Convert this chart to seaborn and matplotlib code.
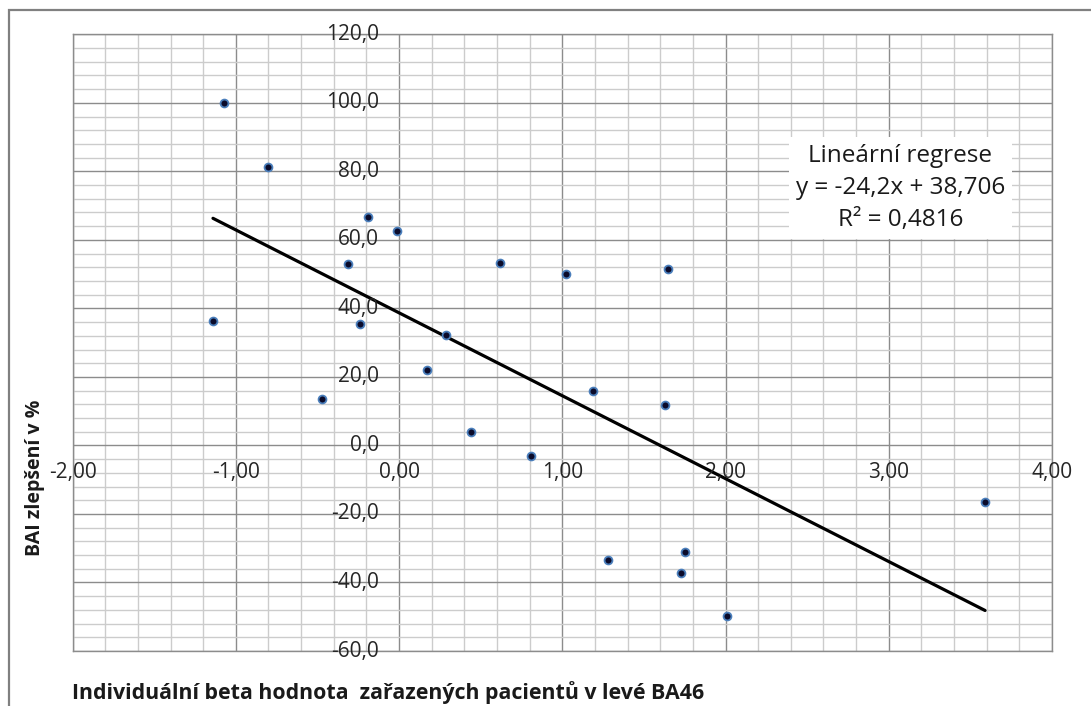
import numpy as np
import pandas as pd
import matplotlib
matplotlib.use("Agg")
import matplotlib.pyplot as plt
import matplotlib.patches as mpatches
from matplotlib.transforms import offset_copy
import seaborn as sns

# ---- data ----
beta = [-1.07, -0.80, -0.19, -0.01, -0.31, 0.62, -1.14, -0.24, 0.29, 1.02, 1.65,
        -0.47, 0.17, 0.44, 0.81, 1.19, 1.63, 3.59, 1.75, 1.28, 1.73, 2.01]
bai = [100.0, 81.4, 66.8, 62.6, 52.9, 53.2, 36.2, 35.5, 32.3, 50.1, 51.6,
       13.6, 22.1, 3.8, -3.2, 16.0, 11.8, -16.5, -31.1, -33.3, -37.3, -49.7]
slope = -24.2
intercept = 38.706
r2 = 0.4816
x_ticks = [-2, -1, 0, 1, 2, 3, 4]
y_ticks = [-60, -40, -20, 0, 20, 40, 60, 80, 100, 120]
x_labels = ["-2,00", "-1,00", "0,00", "1,00", "2,00", "3,00", "4,00"]
y_labels = ["-60,0", "-40,0", "-20,0", "0,0", "20,0", "40,0", "60,0", "80,0", "100,0", "120,0"]
legend_lines = ["Lineární regrese", "y = -24,2x + 38,706", "R² = 0,4816"]
xlabel = "Individuální beta hodnota  zařazených pacientů v levé BA46"
ylabel = "BAI zlepšení v %"

df = pd.DataFrame({"beta": beta, "bai": bai})
line_x = np.array([min(beta), max(beta)])
line_df = pd.DataFrame({"x": line_x, "y": slope * line_x + intercept})

sns.set_theme(style="white")
plt.rcParams["font.family"] = ["Open Sans", "DejaVu Sans"]

W, H = 1091, 706
fig = plt.figure(figsize=(W / 100, H / 100), dpi=100)
ax = fig.add_axes([72.6 / W, 1 - 651 / H, (1052 - 72.6) / W, (651 - 34.3) / H])

ax.set_xlim(-2, 4)
ax.set_ylim(-60, 120)
ax.set_xticks(x_ticks)
ax.set_yticks(y_ticks)
ax.set_xticks(np.arange(-2, 4.001, 0.2), minor=True)
ax.set_yticks(np.arange(-60, 120.001, 4), minor=True)
ax.grid(which="minor", color="#cccccc", lw=1.0)
ax.grid(which="major", color="#8c8c8c", lw=1.0)
ax.set_axisbelow(True)
ax.tick_params(which="both", length=0, labelbottom=False, labelleft=False)
for sp in ax.spines.values():
    sp.set_color("#8c8c8c")
    sp.set_linewidth(1.0)

sns.lineplot(data=line_df, x="x", y="y", ax=ax, color="black", lw=2.3, zorder=3)
sns.scatterplot(data=df, x="beta", y="bai", ax=ax, s=32, color="#0b0b2a",
                edgecolor="#4a7ebb", linewidth=1.3, zorder=4)
ax.set_xlabel("")
ax.set_ylabel("")

tick_fs = 15
ytr = offset_copy(ax.transData, fig=fig, x=-20, y=0, units="dots")
for v, lab in zip(y_ticks, y_labels):
    ax.text(0, v, lab, transform=ytr, ha="right", va="center", fontsize=tick_fs,
            color="#262626", clip_on=False)
xtr = offset_copy(ax.transData, fig=fig, x=0, y=-27, units="dots")
for v, lab in zip(x_ticks, x_labels):
    ax.text(v, 0, lab, transform=xtr, ha="center", va="center", fontsize=tick_fs,
            color="#262626", clip_on=False)

ax.text(3.07, 75.2, "\n".join(legend_lines), ha="center", va="center",
        multialignment="center", fontsize=17.5, color="#1a1a1a", linespacing=1.45,
        bbox=dict(facecolor="white", edgecolor="none", pad=5), zorder=5)

fig.text(35 / W, 1 - 478 / H, ylabel, rotation=90, ha="center", va="center",
         fontsize=14, fontweight="bold", color="#1a1a1a")
fig.text(72 / W, 1 - 693 / H, xlabel, ha="left", va="center",
         fontsize=15.4, fontweight="bold", color="#1a1a1a")

frame = mpatches.Rectangle((8.8 / W, -0.1), 1.5, (H - 10) / H + 0.1,
                           transform=fig.transFigure, fill=False,
                           edgecolor="#808080", lw=1.6, zorder=0)
fig.patches.append(frame)

fig.savefig("out.png", dpi=100, facecolor="white")
